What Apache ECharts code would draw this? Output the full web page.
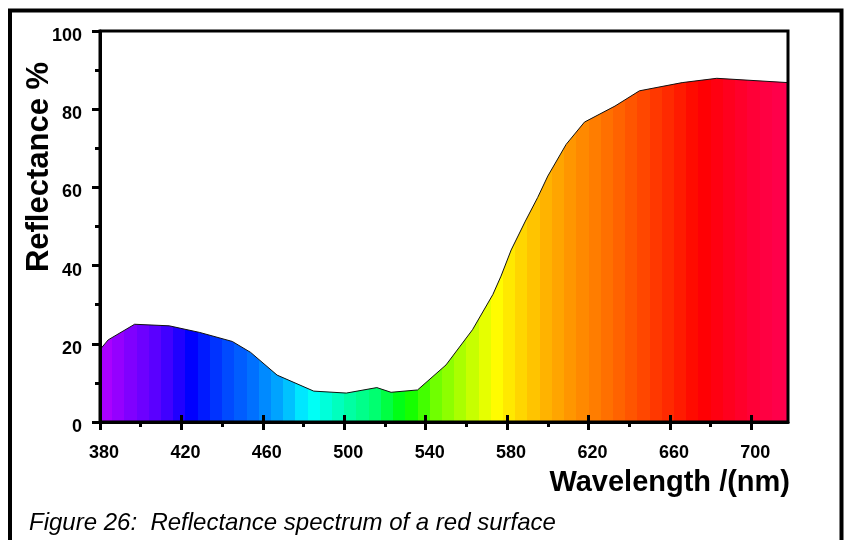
<!DOCTYPE html>
<html>
<head>
<meta charset="utf-8">
<script src="https://cdn.jsdelivr.net/npm/echarts@6/dist/echarts.min.js"></script>
<style>
  html, body { margin: 0; padding: 0; background: #fff; }
  #chart { width: 852px; height: 540px; }
</style>
</head>
<body>
<div id="chart"></div>
<script>
// reflectance curve
const wavelengths = [380, 384, 397, 414, 429, 445, 454, 467, 485, 501, 516, 523, 536, 550, 563, 573, 577, 582, 589, 595, 600, 609, 618, 633, 645, 666, 683, 718]
const reflectance = [18.5, 21, 25, 24.6, 22.9, 20.6, 17.8, 12, 7.9, 7.4, 8.8, 7.6, 8.2, 14.6, 23.6, 32.6, 37.3, 44, 51.4, 57.4, 62.9, 71, 76.7, 80.8, 84.7, 86.8, 87.9, 86.8]
const xMajorTicks = [380, 420, 460, 500, 540, 580, 620, 660, 700]
const xMinorTicks = [400, 440, 480, 520, 560, 600, 640, 680]

const X_MIN = 380
const X_MAX = 718
const FONT = "'Liberation Sans', Arial, sans-serif"

// spectrum colours (style only), nm -> hex
const spectrumAnchors = [
  [380, '#b400ff'], [395, '#8000ff'], [410, '#5000ff'], [425, '#0000ff'],
  [440, '#0040ff'], [455, '#0070ff'], [470, '#00b0ff'], [483, '#00ffff'],
  [500, '#00ffb0'], [515, '#00ff70'], [530, '#00ff00'], [545, '#70ff00'],
  [560, '#b8ff00'], [574, '#ffff00'], [585, '#ffdc00'], [597, '#ffb800'],
  [612, '#ff9400'], [629, '#ff7000'], [645, '#ff4c00'], [663, '#ff2000'],
  [675, '#ff0000'], [690, '#ff0020'], [705, '#ff0040'], [718, '#ff0050'],
]

function hexToRgb(h) {
  return [1, 3, 5].map((i) => parseInt(h.slice(i, i + 2), 16))
}

function spectrumColor(nm) {
  for (let i = 0; i < spectrumAnchors.length - 1; i++) {
    const [a, ca] = spectrumAnchors[i]
    const [b, cb] = spectrumAnchors[i + 1]
    if (nm <= b) {
      const t = Math.max(0, (nm - a) / (b - a))
      const ra = hexToRgb(ca), rb = hexToRgb(cb)
      const c = ra.map((v, k) => Math.round(v + (rb[k] - v) * t))
      return `rgb(${c[0]},${c[1]},${c[2]})`
    }
  }
  return spectrumAnchors[spectrumAnchors.length - 1][1]
}

// banded fill, ~6 nm per band like the original
function spectrumStops() {
  const stops = []
  const span = X_MAX - X_MIN
  for (let b = X_MIN; b < X_MAX; b += 6) {
    const e = Math.min(b + 6, X_MAX)
    const color = spectrumColor((b + e) / 2)
    stops.push({ offset: (b - X_MIN) / span, color })
    stops.push({ offset: (e - X_MIN) / span, color })
  }
  return stops
}

const chart = echarts.init(document.getElementById('chart'), null, { renderer: 'canvas' })

const tickStyle = { color: '#000', width: 3 }
const hiddenAxisBase = {
  type: 'value',
  min: X_MIN,
  max: X_MAX,
  position: 'bottom',
  axisLine: { show: false },
  axisLabel: { show: false },
  splitLine: { show: false },
  z: 10,
}

chart.setOption({
  backgroundColor: '#fff',
  animation: false,
  grid: {
    left: 100,
    top: 31,
    right: 64,
    bottom: 118,
    show: true,
    borderColor: '#000',
    borderWidth: 3,
    backgroundColor: 'transparent',
    z: 10,
  },
  xAxis: [
    {
      type: 'value',
      min: X_MIN,
      max: X_MAX,
      position: 'bottom',
      z: 10,
      axisLine: { show: true, lineStyle: { color: '#000', width: 3 } },
      axisTick: { show: true, length: 8, lineStyle: tickStyle, customValues: xMajorTicks },
      axisLabel: {
        customValues: xMajorTicks,
        margin: 22,
        color: '#000',
        fontFamily: FONT,
        fontWeight: 'bold',
        fontSize: 18,
        padding: [0, 0, 0, 8],
      },
      splitLine: { show: false },
    },
    Object.assign({}, hiddenAxisBase, {
      axisTick: { show: true, length: 5, lineStyle: tickStyle, customValues: xMinorTicks },
    }),
    Object.assign({}, hiddenAxisBase, {
      axisTick: { show: true, inside: true, length: 7, lineStyle: tickStyle, customValues: xMajorTicks },
    }),
  ],
  yAxis: {
    type: 'value',
    min: 0,
    max: 100,
    interval: 20,
    z: 10,
    axisLine: { show: true, lineStyle: { color: '#000', width: 3 } },
    axisTick: { show: true, length: 8, lineStyle: tickStyle },
    minorTick: { show: true, splitNumber: 2, length: 5, lineStyle: tickStyle },
    axisLabel: {
      margin: 18,
      color: '#000',
      fontFamily: FONT,
      fontWeight: 'bold',
      fontSize: 18,
      verticalAlign: 'top',
      lineHeight: 10,
    },
    splitLine: { show: false },
    minorSplitLine: { show: false },
  },
  series: [
    {
      type: 'line',
      xAxisIndex: 0,
      data: wavelengths.map((w, i) => [w, reflectance[i]]),
      symbol: 'none',
      lineStyle: { color: '#111', width: 1 },
      areaStyle: {
        opacity: 1,
        color: new echarts.graphic.LinearGradient(0, 0, 1, 0, spectrumStops()),
      },
      z: 2,
    },
  ],
  graphic: [
    {
      type: 'polyline',
      shape: { points: [[10, 540], [10, 10.5], [841.5, 10.5], [841.5, 540]] },
      style: { stroke: '#000', lineWidth: 4, fill: null },
      z: 20,
    },
    {
      type: 'text',
      x: 39.5,
      y: 167,
      rotation: Math.PI / 2,
      style: {
        text: 'Reflectance %',
        font: `bold 31px ${FONT}`,
        fill: '#000',
        textAlign: 'center',
        textVerticalAlign: 'middle',
      },
      z: 20,
    },
    {
      type: 'text',
      x: 790,
      y: 468,
      style: {
        text: 'Wavelength /(nm)',
        font: `bold 29px ${FONT}`,
        fill: '#000',
        textAlign: 'right',
        textVerticalAlign: 'top',
      },
      z: 20,
    },
    {
      type: 'text',
      x: 29,
      y: 511,
      style: {
        text: 'Figure 26:  Reflectance spectrum of a red surface',
        font: `italic 24px ${FONT}`,
        fill: '#000',
        textAlign: 'left',
        textVerticalAlign: 'top',
      },
      z: 20,
    },
  ],
})
</script>
</body>
</html>
